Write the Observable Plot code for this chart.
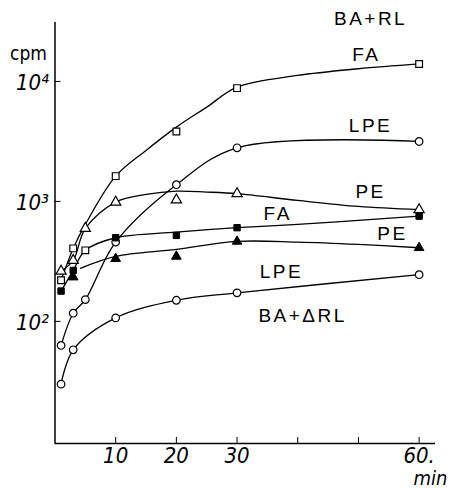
<!DOCTYPE html>
<html>
<head>
<meta charset="utf-8">
<script src="https://cdn.jsdelivr.net/npm/d3@7"></script>
<script src="https://cdn.jsdelivr.net/npm/@observablehq/plot@0.6"></script>
<style>
  body { margin: 0; background: #fff; }
  .narrow text, text.narrow { font-stretch: condensed; }
</style>
</head>
<body>
<div id="chart"></div>
<script>
// Incorporation (cpm) versus time (min)
// Measured points per fraction, plus the smoothed curve drawn by hand where it
// does not pass through every point.

// BA + RL
const rlFA_t  = [1, 3, 10, 20, 30, 60];
const rlFA    = [220, 406, 1625, 3830, 8800, 14000];
const rlFA_curveT = [1, 3, 5, 10, 15, 20, 25, 30, 40, 50, 60];
const rlFA_curve  = [220, 406, 643, 1625, 2660, 4160, 6110, 8965, 11220, 12760, 14000];

const rlPE_t  = [1, 3, 5, 10, 20, 30, 60];
const rlPE    = [262, 322, 596, 986, 1030, 1160, 853];
const rlPE_curveT = [1, 3, 5, 10, 15, 20, 25, 30, 40, 50, 60];
const rlPE_curve  = [262, 322, 596, 986, 1143, 1219, 1197, 1160, 1019, 908, 853];

const rlLPE_t = [1, 3, 5, 10, 20, 30, 60];
const rlLPE   = [63, 117, 152, 458, 1378, 2800, 3160];

// BA + ΔRL
const dFA_t   = [1, 3, 5, 10, 20, 30, 60];
const dFA     = [179, 266, 391, 498, 521, 604, 754];
const dFA_openAt = [5];
const dFA_curveT = [1, 3, 5, 10, 20, 30, 40, 50, 60];
const dFA_curve  = [179, 266, 391, 498, 555, 604, 643, 695, 754];

const dPE_t   = [3, 10, 20, 30, 60];
const dPE     = [234, 333, 348, 464, 411];
const dPE_curveT = [4.2, 10, 20, 30, 40, 50, 60];
const dPE_curve  = [277, 348, 398, 464, 458, 438, 411];

const dLPE_t  = [1, 3, 10, 20, 30, 60];
const dLPE    = [30, 58, 107, 150, 173, 245];

// Axes
const xTickMarks  = [10, 20, 30, 40, 50, 60];
const xTickLabels = [10, 20, 30, 60];
const yTicks      = [100, 1000, 10000];
const yTickText   = ["10²", "10³", "10⁴"];

// Curve labels
const labelText = ["BA+RL", "FA", "LPE", "PE", "FA", "PE", "LPE", "BA+ΔRL"];
const labelT    = [52, 51.3, 52, 52, 36.7, 55.6, 37.3, 40.8];
const labelV    = [33500, 16500, 4300, 1212, 794, 541, 261, 112];

const series = [
  {name: "BA+RL FA",  t: rlFA_t,  v: rlFA,  ct: rlFA_curveT, cv: rlFA_curve, symbol: "square",   filled: false},
  {name: "BA+RL PE",  t: rlPE_t,  v: rlPE,  ct: rlPE_curveT, cv: rlPE_curve, symbol: "triangle", filled: false},
  {name: "BA+RL LPE", t: rlLPE_t, v: rlLPE, symbol: "circle",   filled: false},
  {name: "BA+ΔRL FA", t: dFA_t,   v: dFA,   ct: dFA_curveT,  cv: dFA_curve,  symbol: "square",   filled: true, openAt: dFA_openAt},
  {name: "BA+ΔRL PE", t: dPE_t,   v: dPE,   ct: dPE_curveT,  cv: dPE_curve,  symbol: "triangle", filled: true},
  {name: "BA+ΔRL LPE",t: dLPE_t,  v: dLPE,  symbol: "circle",   filled: false}
];

const points = series.flatMap(s => s.t.map((t, i) => ({
  series: s.name, t, v: s.v[i], symbol: s.symbol,
  filled: s.filled && !(s.openAt || []).includes(t)
})));
const curves = series.flatMap(s => {
  const ct = s.ct || s.t, cv = s.cv || s.v;
  return ct.map((t, i) => ({series: s.name, t, v: cv[i]}));
});
const labels = labelText.map((text, i) => ({text, t: labelT[i], v: labelV[i]}));

const font = "'Liberation Sans', Arial, sans-serif";
const narrow = "'DejaVu Sans Condensed', 'DejaVu Sans', sans-serif";
const yMin = 9.6, yMax = 31000;

const chart = Plot.plot({
  width: 450,
  height: 488,
  marginLeft: 54.5,
  marginRight: 15,
  marginTop: 22,
  marginBottom: 45,
  style: {background: "#fff", color: "#000", fontFamily: font, overflow: "visible"},
  x: {domain: [0, 62.7]},
  y: {type: "log", domain: [yMin, yMax]},
  marks: [
    Plot.ruleX([0], {stroke: "#000", strokeWidth: 1.5}),
    Plot.ruleY([yMin], {stroke: "#000", strokeWidth: 1.5}),
    Plot.axisX(xTickMarks, {tickSize: -6, tickFormat: () => "", label: null, stroke: "#000"}),
    Plot.axisX(xTickLabels, {
      tickSize: 0, tickPadding: 4, label: null,
      tickFormat: d => d === 60 ? "60." : String(d),
      fontSize: 22, fontStyle: "italic", fontFamily: narrow, fill: "#000"
    }),
    Plot.axisY(yTicks, {tickSize: -6, tickFormat: () => "", label: null, stroke: "#000"}),
    Plot.axisY(yTicks, {
      tickSize: 0, tickPadding: 6, label: null, dy: 2,
      tickFormat: d => yTickText[yTicks.indexOf(d)],
      fontSize: 22, fontStyle: "italic", fontFamily: narrow, fill: "#000"
    }),
    Plot.line(curves, {x: "t", y: "v", z: "series", curve: "catmull-rom", stroke: "#000", strokeWidth: 1.3}),
    Plot.dot(points.filter(d => !d.filled), {x: "t", y: "v", symbol: "symbol", r: 3.8, fill: "#fff", stroke: "#000", strokeWidth: 1.2}),
    Plot.dot(points.filter(d => d.filled), {x: "t", y: "v", symbol: "symbol", r: 3.6, fill: "#000", stroke: "#000", strokeWidth: 1}),
    Plot.text(labels, {x: "t", y: "v", text: "text", fontSize: 19, fill: "#000", clip: false, fontFamily: font}),
    Plot.text(["cpm"], {frameAnchor: "top-left", textAnchor: "middle", dx: -26.5, dy: 24, fontSize: 19, fontFamily: narrow, fill: "#000"}),
    Plot.text(["min"], {frameAnchor: "bottom-right", textAnchor: "end", dx: 12, dy: 41, fontSize: 20, fontStyle: "italic", fontFamily: narrow, fill: "#000"})
  ]
});

// Curve labels are letter-spaced; axis numerals use a condensed face
chart.querySelectorAll("g[aria-label='text'] text").forEach(t => t.setAttribute("letter-spacing", "2.5"));
chart.querySelectorAll("g[aria-label='x-axis tick label'], g[aria-label='y-axis tick label']")
  .forEach(g => g.classList.add("narrow"));
chart.querySelectorAll("g[aria-label='text'] text").forEach(t => {
  if (t.textContent === "cpm" || t.textContent === "min") {
    t.classList.add("narrow");
    t.setAttribute("letter-spacing", "0");
  }
});
document.getElementById("chart").appendChild(chart);
</script>
</body>
</html>
